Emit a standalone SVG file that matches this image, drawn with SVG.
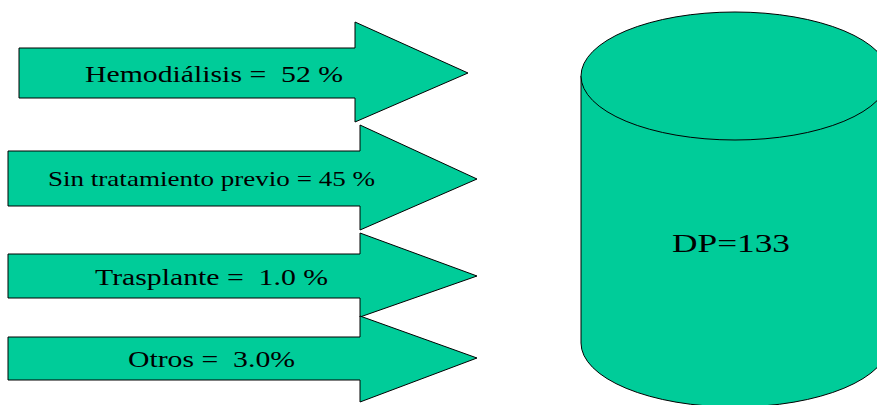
<svg xmlns="http://www.w3.org/2000/svg" width="877" height="405" viewBox="0 0 877 405">
<style>
.shape{fill:#00CC99;stroke:#000;stroke-width:1}
.lbl{font-family:"Liberation Serif","Times New Roman",serif;fill:#000;white-space:pre}
</style>
<rect width="877" height="405" fill="#fff"/>
<g id="arrow-hemodialisis">
<polygon class="shape" points="19,48 355,48 355,22 468,73 355,122 355,98 19,98"/>
<text class="lbl" xml:space="preserve" x="85" y="82" font-size="24" textLength="258" lengthAdjust="spacingAndGlyphs">Hemodiálisis =  52 %</text>
</g>
<g id="arrow-sin-tratamiento">
<polygon class="shape" points="8,151 360,151 360,125 477,179 360,230 360,206 8,206"/>
<text class="lbl" x="48" y="186" font-size="21" textLength="327" lengthAdjust="spacingAndGlyphs">Sin tratamiento previo = 45 %</text>
</g>
<g id="arrow-trasplante">
<polygon class="shape" points="8,254 360,254 360,233 477,276 360,317 360,298 8,298"/>
<text class="lbl" xml:space="preserve" x="95" y="285" font-size="24" textLength="233" lengthAdjust="spacingAndGlyphs">Trasplante =  1.0 %</text>
</g>
<g id="arrow-otros">
<polygon class="shape" points="8,337 360,337 360,316 477,358 360,402 360,380 8,380"/>
<text class="lbl" xml:space="preserve" x="128" y="367" font-size="24" textLength="167" lengthAdjust="spacingAndGlyphs">Otros =  3.0%</text>
</g>
<g id="cylinder-dp">
<path class="shape" d="M581,76 L581,343 A154,64 0 0 0 889,343 L889,76 Z"/>
<ellipse class="shape" cx="735" cy="76" rx="154" ry="64"/>
<text class="lbl" x="672" y="252" font-size="26" textLength="118" lengthAdjust="spacingAndGlyphs">DP=133</text>
</g>
<g id="connectors"/>
</svg>
